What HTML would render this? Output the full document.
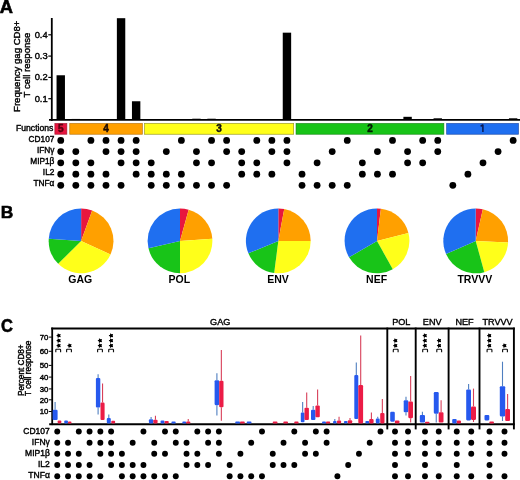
<!DOCTYPE html>
<html><head><meta charset="utf-8"><style>
html,body{margin:0;padding:0;background:#fff;width:520px;height:480px;overflow:hidden}
svg{display:block;filter:blur(0.3px)}
text{font-family:"Liberation Sans",sans-serif}
</style></head><body>
<svg width="520" height="480" viewBox="0 0 520 480">
<rect width="520" height="480" fill="#fff"/>
<text x="-0.3" y="13.2" font-size="18.3" font-weight="bold" stroke="#000" stroke-width="0.6" font-family="Liberation Sans, sans-serif">A</text>
<line x1="51.8" y1="18" x2="51.8" y2="121" stroke="#000" stroke-width="1.8"/>
<line x1="48.3" y1="98.70" x2="52" y2="98.70" stroke="#000" stroke-width="1.2"/>
<text x="47.7" y="101.60" font-size="9.4" text-anchor="end" font-family="Liberation Sans, sans-serif" stroke="#000" stroke-width="0.4">0.1</text>
<line x1="48.3" y1="77.40" x2="52" y2="77.40" stroke="#000" stroke-width="1.2"/>
<text x="47.7" y="80.30" font-size="9.4" text-anchor="end" font-family="Liberation Sans, sans-serif" stroke="#000" stroke-width="0.4">0.2</text>
<line x1="48.3" y1="56.10" x2="52" y2="56.10" stroke="#000" stroke-width="1.2"/>
<text x="47.7" y="59.00" font-size="9.4" text-anchor="end" font-family="Liberation Sans, sans-serif" stroke="#000" stroke-width="0.4">0.3</text>
<line x1="48.3" y1="34.80" x2="52" y2="34.80" stroke="#000" stroke-width="1.2"/>
<text x="47.7" y="37.70" font-size="9.4" text-anchor="end" font-family="Liberation Sans, sans-serif" stroke="#000" stroke-width="0.4">0.4</text>
<text transform="translate(19.9,66.25) rotate(-90)" font-size="9.6" text-anchor="middle" font-family="Liberation Sans, sans-serif" stroke="#000" stroke-width="0.4">Frequency gag CD8+</text>
<text transform="translate(30.4,65) rotate(-90)" font-size="9.6" text-anchor="middle" font-family="Liberation Sans, sans-serif" stroke="#000" stroke-width="0.4">T cell response</text>
<line x1="49" y1="119.9" x2="520" y2="119.9" stroke="#000" stroke-width="1.8"/>
<rect x="56.55" y="75.27" width="8.4" height="44.73" fill="#000"/>
<rect x="71.63" y="118.94" width="8.4" height="1.06" fill="#000"/>
<rect x="116.87" y="18.19" width="8.4" height="101.81" fill="#000"/>
<rect x="131.95" y="101.26" width="8.4" height="18.74" fill="#000"/>
<rect x="282.75" y="32.67" width="8.4" height="87.33" fill="#000"/>
<rect x="192.27" y="118.72" width="8.4" height="1.28" fill="#000"/>
<rect x="207.35" y="118.72" width="8.4" height="1.28" fill="#000"/>
<rect x="403.39" y="116.81" width="8.4" height="3.19" fill="#000"/>
<rect x="433.55" y="118.30" width="8.4" height="1.70" fill="#000"/>
<rect x="508.95" y="118.30" width="8.4" height="1.70" fill="#000"/>
<text x="53.4" y="130.6" font-size="8.65" text-anchor="end" font-family="Liberation Sans, sans-serif" stroke="#000" stroke-width="0.4">Functions</text>
<rect x="54.85" y="123.45" width="12.00" height="10.8" fill="#e6163f" stroke="#a0102a" stroke-width="0.7" stroke-opacity="0.85"/>
<text x="60.85" y="131.8" font-size="10" font-weight="bold" text-anchor="middle" fill="#5a0010" stroke="#5a0010" stroke-width="0.45" font-family="Liberation Sans, sans-serif">5</text>
<rect x="69.75" y="123.45" width="72.60" height="10.8" fill="#ffa000" stroke="#b06a00" stroke-width="0.7" stroke-opacity="0.85"/>
<text x="106.05" y="131.8" font-size="10" font-weight="bold" text-anchor="middle" fill="#1a0800" stroke="#1a0800" stroke-width="0.45" font-family="Liberation Sans, sans-serif">4</text>
<rect x="144.54999999999998" y="123.45" width="149.10" height="10.8" fill="#ffff1a" stroke="#8a8a10" stroke-width="0.7" stroke-opacity="0.85"/>
<text x="219.10" y="131.8" font-size="10" font-weight="bold" text-anchor="middle" fill="#111" stroke="#111" stroke-width="0.45" font-family="Liberation Sans, sans-serif">3</text>
<rect x="296.05" y="123.45" width="147.80" height="10.8" fill="#18c418" stroke="#108010" stroke-width="0.7" stroke-opacity="0.85"/>
<text x="369.95" y="131.8" font-size="10" font-weight="bold" text-anchor="middle" fill="#021a02" stroke="#021a02" stroke-width="0.45" font-family="Liberation Sans, sans-serif">2</text>
<rect x="446.65000000000003" y="123.45" width="71.80" height="10.8" fill="#1f6ff0" stroke="#1040a0" stroke-width="0.7" stroke-opacity="0.85"/>
<path d="M482.9,132 V124.4 M482.9,124.6 L480.6,126.4" stroke="#0a1850" stroke-width="1.5" fill="none"/>
<text x="54.4" y="142.10" font-size="8.3" text-anchor="end" font-family="Liberation Sans, sans-serif" stroke="#000" stroke-width="0.4">CD107</text>
<text x="54.4" y="153.10" font-size="8.3" text-anchor="end" font-family="Liberation Sans, sans-serif" stroke="#000" stroke-width="0.4">IFNγ</text>
<text x="54.4" y="164.10" font-size="8.3" text-anchor="end" font-family="Liberation Sans, sans-serif" stroke="#000" stroke-width="0.4">MIP1β</text>
<text x="54.4" y="175.10" font-size="8.3" text-anchor="end" font-family="Liberation Sans, sans-serif" stroke="#000" stroke-width="0.4">IL2</text>
<text x="54.4" y="186.10" font-size="8.3" text-anchor="end" font-family="Liberation Sans, sans-serif" stroke="#000" stroke-width="0.4">TNFα</text>
<circle cx="60.75" cy="140.45" r="3.4"/>
<circle cx="60.75" cy="151.55" r="3.4"/>
<circle cx="60.75" cy="162.80" r="3.4"/>
<circle cx="60.75" cy="174.20" r="3.4"/>
<circle cx="60.75" cy="185.35" r="3.4"/>
<circle cx="75.83" cy="151.55" r="3.4"/>
<circle cx="75.83" cy="162.80" r="3.4"/>
<circle cx="75.83" cy="174.20" r="3.4"/>
<circle cx="75.83" cy="185.35" r="3.4"/>
<circle cx="90.91" cy="140.45" r="3.4"/>
<circle cx="90.91" cy="162.80" r="3.4"/>
<circle cx="90.91" cy="174.20" r="3.4"/>
<circle cx="90.91" cy="185.35" r="3.4"/>
<circle cx="105.99" cy="140.45" r="3.4"/>
<circle cx="105.99" cy="151.55" r="3.4"/>
<circle cx="105.99" cy="174.20" r="3.4"/>
<circle cx="105.99" cy="185.35" r="3.4"/>
<circle cx="121.07" cy="140.45" r="3.4"/>
<circle cx="121.07" cy="151.55" r="3.4"/>
<circle cx="121.07" cy="162.80" r="3.4"/>
<circle cx="121.07" cy="185.35" r="3.4"/>
<circle cx="136.15" cy="140.45" r="3.4"/>
<circle cx="136.15" cy="151.55" r="3.4"/>
<circle cx="136.15" cy="162.80" r="3.4"/>
<circle cx="136.15" cy="174.20" r="3.4"/>
<circle cx="151.23" cy="162.80" r="3.4"/>
<circle cx="151.23" cy="174.20" r="3.4"/>
<circle cx="151.23" cy="185.35" r="3.4"/>
<circle cx="166.31" cy="151.55" r="3.4"/>
<circle cx="166.31" cy="174.20" r="3.4"/>
<circle cx="166.31" cy="185.35" r="3.4"/>
<circle cx="181.39" cy="140.45" r="3.4"/>
<circle cx="181.39" cy="174.20" r="3.4"/>
<circle cx="181.39" cy="185.35" r="3.4"/>
<circle cx="196.47" cy="151.55" r="3.4"/>
<circle cx="196.47" cy="162.80" r="3.4"/>
<circle cx="196.47" cy="185.35" r="3.4"/>
<circle cx="211.55" cy="140.45" r="3.4"/>
<circle cx="211.55" cy="162.80" r="3.4"/>
<circle cx="211.55" cy="185.35" r="3.4"/>
<circle cx="226.63" cy="140.45" r="3.4"/>
<circle cx="226.63" cy="151.55" r="3.4"/>
<circle cx="226.63" cy="185.35" r="3.4"/>
<circle cx="241.71" cy="151.55" r="3.4"/>
<circle cx="241.71" cy="162.80" r="3.4"/>
<circle cx="241.71" cy="174.20" r="3.4"/>
<circle cx="256.79" cy="140.45" r="3.4"/>
<circle cx="256.79" cy="162.80" r="3.4"/>
<circle cx="256.79" cy="174.20" r="3.4"/>
<circle cx="271.87" cy="140.45" r="3.4"/>
<circle cx="271.87" cy="151.55" r="3.4"/>
<circle cx="271.87" cy="174.20" r="3.4"/>
<circle cx="286.95" cy="140.45" r="3.4"/>
<circle cx="286.95" cy="151.55" r="3.4"/>
<circle cx="286.95" cy="162.80" r="3.4"/>
<circle cx="302.03" cy="174.20" r="3.4"/>
<circle cx="302.03" cy="185.35" r="3.4"/>
<circle cx="317.11" cy="162.80" r="3.4"/>
<circle cx="317.11" cy="185.35" r="3.4"/>
<circle cx="332.19" cy="151.55" r="3.4"/>
<circle cx="332.19" cy="185.35" r="3.4"/>
<circle cx="347.27" cy="140.45" r="3.4"/>
<circle cx="347.27" cy="185.35" r="3.4"/>
<circle cx="362.35" cy="162.80" r="3.4"/>
<circle cx="362.35" cy="174.20" r="3.4"/>
<circle cx="377.43" cy="151.55" r="3.4"/>
<circle cx="377.43" cy="174.20" r="3.4"/>
<circle cx="392.51" cy="140.45" r="3.4"/>
<circle cx="392.51" cy="174.20" r="3.4"/>
<circle cx="407.59" cy="151.55" r="3.4"/>
<circle cx="407.59" cy="162.80" r="3.4"/>
<circle cx="422.67" cy="140.45" r="3.4"/>
<circle cx="422.67" cy="162.80" r="3.4"/>
<circle cx="437.75" cy="140.45" r="3.4"/>
<circle cx="437.75" cy="151.55" r="3.4"/>
<circle cx="452.83" cy="185.35" r="3.4"/>
<circle cx="467.91" cy="174.20" r="3.4"/>
<circle cx="482.99" cy="162.80" r="3.4"/>
<circle cx="498.07" cy="151.55" r="3.4"/>
<circle cx="513.15" cy="140.45" r="3.4"/>
<text x="0.7" y="217.6" font-size="17.4" font-weight="bold" stroke="#000" stroke-width="0.55" font-family="Liberation Sans, sans-serif">B</text>
<path d="M81.10,240.90 L81.10,208.50 A32.4,32.4 0 0 1 92.18,210.45 Z" fill="#e8173e"/>
<path d="M81.10,240.90 L92.18,210.45 A32.4,32.4 0 0 1 110.56,254.39 Z" fill="#ffa000"/>
<path d="M81.10,240.90 L110.56,254.39 A32.4,32.4 0 0 1 58.19,263.81 Z" fill="#ffff1a"/>
<path d="M81.10,240.90 L58.19,263.81 A32.4,32.4 0 0 1 48.77,238.75 Z" fill="#18c418"/>
<path d="M81.10,240.90 L48.77,238.75 A32.4,32.4 0 0 1 81.10,208.50 Z" fill="#1f6ff0"/>
<text x="80.30" y="283.4" font-size="10.5" font-weight="bold" text-anchor="middle" font-family="Liberation Sans, sans-serif">GAG</text>
<path d="M180.00,240.90 L180.00,208.50 A32.4,32.4 0 0 1 188.66,209.68 Z" fill="#e8173e"/>
<path d="M180.00,240.90 L188.66,209.68 A32.4,32.4 0 0 1 212.32,238.64 Z" fill="#ffa000"/>
<path d="M180.00,240.90 L212.32,238.64 A32.4,32.4 0 0 1 180.00,273.30 Z" fill="#ffff1a"/>
<path d="M180.00,240.90 L180.00,273.30 A32.4,32.4 0 0 1 148.47,248.35 Z" fill="#18c418"/>
<path d="M180.00,240.90 L148.47,248.35 A32.4,32.4 0 0 1 180.00,208.50 Z" fill="#1f6ff0"/>
<text x="179.30" y="283.4" font-size="10.5" font-weight="bold" text-anchor="middle" font-family="Liberation Sans, sans-serif">POL</text>
<path d="M278.30,240.90 L278.30,208.50 A32.4,32.4 0 0 1 284.26,209.05 Z" fill="#e8173e"/>
<path d="M278.30,240.90 L284.26,209.05 A32.4,32.4 0 0 1 310.70,240.90 Z" fill="#ffa000"/>
<path d="M278.30,240.90 L310.70,240.90 A32.4,32.4 0 0 1 274.18,273.04 Z" fill="#ffff1a"/>
<path d="M278.30,240.90 L274.18,273.04 A32.4,32.4 0 0 1 248.39,253.35 Z" fill="#18c418"/>
<path d="M278.30,240.90 L248.39,253.35 A32.4,32.4 0 0 1 278.30,208.50 Z" fill="#1f6ff0"/>
<text x="278.00" y="283.4" font-size="10.5" font-weight="bold" text-anchor="middle" font-family="Liberation Sans, sans-serif">ENV</text>
<path d="M377.00,240.90 L377.00,208.50 A32.4,32.4 0 0 1 380.89,208.73 Z" fill="#e8173e"/>
<path d="M377.00,240.90 L380.89,208.73 A32.4,32.4 0 0 1 408.41,232.95 Z" fill="#ffa000"/>
<path d="M377.00,240.90 L408.41,232.95 A32.4,32.4 0 0 1 392.76,269.21 Z" fill="#ffff1a"/>
<path d="M377.00,240.90 L392.76,269.21 A32.4,32.4 0 0 1 349.05,257.30 Z" fill="#18c418"/>
<path d="M377.00,240.90 L349.05,257.30 A32.4,32.4 0 0 1 377.00,208.50 Z" fill="#1f6ff0"/>
<text x="376.60" y="283.4" font-size="10.5" font-weight="bold" text-anchor="middle" font-family="Liberation Sans, sans-serif">NEF</text>
<path d="M475.70,240.90 L475.70,208.50 A32.4,32.4 0 0 1 482.82,209.29 Z" fill="#e8173e"/>
<path d="M475.70,240.90 L482.82,209.29 A32.4,32.4 0 0 1 508.06,242.60 Z" fill="#ffa000"/>
<path d="M475.70,240.90 L508.06,242.60 A32.4,32.4 0 0 1 484.30,272.14 Z" fill="#ffff1a"/>
<path d="M475.70,240.90 L484.30,272.14 A32.4,32.4 0 0 1 446.04,253.95 Z" fill="#18c418"/>
<path d="M475.70,240.90 L446.04,253.95 A32.4,32.4 0 0 1 475.70,208.50 Z" fill="#1f6ff0"/>
<text x="474.80" y="283.4" font-size="10.5" font-weight="bold" text-anchor="middle" font-family="Liberation Sans, sans-serif">TRVVV</text>
<text transform="translate(0.9,331.6) scale(0.93,1)" font-size="17.8" font-weight="bold" stroke="#000" stroke-width="0.55" font-family="Liberation Sans, sans-serif">C</text>
<line x1="51.2" y1="328.5" x2="514.8" y2="328.5" stroke="#000" stroke-width="1.9"/>
<line x1="52.2" y1="327.6" x2="52.2" y2="425.09999999999997" stroke="#000" stroke-width="1.8"/>
<line x1="49.2" y1="424.2" x2="514.8" y2="424.2" stroke="#000" stroke-width="1.9"/>
<line x1="387.3" y1="327.6" x2="387.3" y2="429.4" stroke="#000" stroke-width="1.9"/>
<line x1="415.7" y1="327.6" x2="415.7" y2="429.4" stroke="#000" stroke-width="1.9"/>
<line x1="448.6" y1="327.6" x2="448.6" y2="429.4" stroke="#000" stroke-width="1.9"/>
<line x1="479.5" y1="327.6" x2="479.5" y2="429.4" stroke="#000" stroke-width="1.9"/>
<line x1="513.9" y1="327.6" x2="513.9" y2="429.4" stroke="#000" stroke-width="1.9"/>
<line x1="48.8" y1="411.50" x2="51.8" y2="411.50" stroke="#000" stroke-width="1"/>
<text x="48.4" y="414.20" font-size="7.8" text-anchor="end" font-family="Liberation Sans, sans-serif" stroke="#000" stroke-width="0.4">10</text>
<line x1="48.8" y1="399.80" x2="51.8" y2="399.80" stroke="#000" stroke-width="1"/>
<text x="48.4" y="402.50" font-size="7.8" text-anchor="end" font-family="Liberation Sans, sans-serif" stroke="#000" stroke-width="0.4">20</text>
<line x1="48.8" y1="388.90" x2="51.8" y2="388.90" stroke="#000" stroke-width="1"/>
<text x="48.4" y="391.60" font-size="7.8" text-anchor="end" font-family="Liberation Sans, sans-serif" stroke="#000" stroke-width="0.4">30</text>
<line x1="48.8" y1="377.10" x2="51.8" y2="377.10" stroke="#000" stroke-width="1"/>
<text x="48.4" y="379.80" font-size="7.8" text-anchor="end" font-family="Liberation Sans, sans-serif" stroke="#000" stroke-width="0.4">40</text>
<line x1="48.8" y1="365.40" x2="51.8" y2="365.40" stroke="#000" stroke-width="1"/>
<text x="48.4" y="368.10" font-size="7.8" text-anchor="end" font-family="Liberation Sans, sans-serif" stroke="#000" stroke-width="0.4">50</text>
<line x1="48.8" y1="351.30" x2="51.8" y2="351.30" stroke="#000" stroke-width="1"/>
<text x="48.4" y="354.00" font-size="7.8" text-anchor="end" font-family="Liberation Sans, sans-serif" stroke="#000" stroke-width="0.4">60</text>
<line x1="48.8" y1="337.10" x2="51.8" y2="337.10" stroke="#000" stroke-width="1"/>
<text x="48.4" y="339.80" font-size="7.8" text-anchor="end" font-family="Liberation Sans, sans-serif" stroke="#000" stroke-width="0.4">70</text>
<text transform="translate(23.6,396) rotate(-90)" font-size="8.2" font-family="Liberation Sans, sans-serif" stroke="#000" stroke-width="0.4">Percent CD8+</text>
<text transform="translate(31.3,396) rotate(-90)" font-size="8.2" font-family="Liberation Sans, sans-serif" stroke="#000" stroke-width="0.4">T cell response</text>
<text x="220.2" y="325.0" font-size="9.1" text-anchor="middle" font-family="Liberation Sans, sans-serif" stroke="#000" stroke-width="0.4">GAG</text>
<text x="401.3" y="325.0" font-size="9.1" text-anchor="middle" font-family="Liberation Sans, sans-serif" stroke="#000" stroke-width="0.4">POL</text>
<text x="432.2" y="325.0" font-size="9.1" text-anchor="middle" font-family="Liberation Sans, sans-serif" stroke="#000" stroke-width="0.4">ENV</text>
<text x="464.5" y="325.0" font-size="9.1" text-anchor="middle" font-family="Liberation Sans, sans-serif" stroke="#000" stroke-width="0.4">NEF</text>
<text x="497.5" y="325.0" font-size="9.1" text-anchor="middle" font-family="Liberation Sans, sans-serif" stroke="#000" stroke-width="0.4">TRVVV</text>
<text x="49.8" y="434.10" font-size="8.5" text-anchor="end" font-family="Liberation Sans, sans-serif" stroke="#000" stroke-width="0.4">CD107</text>
<text x="49.8" y="445.15" font-size="8.5" text-anchor="end" font-family="Liberation Sans, sans-serif" stroke="#000" stroke-width="0.4">IFNγ</text>
<text x="49.8" y="456.20" font-size="8.5" text-anchor="end" font-family="Liberation Sans, sans-serif" stroke="#000" stroke-width="0.4">MIP1β</text>
<text x="49.8" y="467.25" font-size="8.5" text-anchor="end" font-family="Liberation Sans, sans-serif" stroke="#000" stroke-width="0.4">IL2</text>
<text x="49.8" y="478.30" font-size="8.5" text-anchor="end" font-family="Liberation Sans, sans-serif" stroke="#000" stroke-width="0.4">TNFα</text>
<circle cx="57.25" cy="431.50" r="2.95"/>
<circle cx="57.25" cy="442.80" r="2.95"/>
<circle cx="57.25" cy="453.80" r="2.95"/>
<circle cx="57.25" cy="465.00" r="2.95"/>
<circle cx="57.25" cy="476.25" r="2.95"/>
<circle cx="68.03" cy="442.80" r="2.95"/>
<circle cx="68.03" cy="453.80" r="2.95"/>
<circle cx="68.03" cy="465.00" r="2.95"/>
<circle cx="68.03" cy="476.25" r="2.95"/>
<circle cx="78.80" cy="431.50" r="2.95"/>
<circle cx="78.80" cy="453.80" r="2.95"/>
<circle cx="78.80" cy="465.00" r="2.95"/>
<circle cx="78.80" cy="476.25" r="2.95"/>
<circle cx="89.58" cy="431.50" r="2.95"/>
<circle cx="89.58" cy="442.80" r="2.95"/>
<circle cx="89.58" cy="465.00" r="2.95"/>
<circle cx="89.58" cy="476.25" r="2.95"/>
<circle cx="100.35" cy="431.50" r="2.95"/>
<circle cx="100.35" cy="442.80" r="2.95"/>
<circle cx="100.35" cy="453.80" r="2.95"/>
<circle cx="100.35" cy="476.25" r="2.95"/>
<circle cx="111.12" cy="431.50" r="2.95"/>
<circle cx="111.12" cy="442.80" r="2.95"/>
<circle cx="111.12" cy="453.80" r="2.95"/>
<circle cx="111.12" cy="465.00" r="2.95"/>
<circle cx="121.90" cy="453.80" r="2.95"/>
<circle cx="121.90" cy="465.00" r="2.95"/>
<circle cx="121.90" cy="476.25" r="2.95"/>
<circle cx="132.68" cy="442.80" r="2.95"/>
<circle cx="132.68" cy="465.00" r="2.95"/>
<circle cx="132.68" cy="476.25" r="2.95"/>
<circle cx="143.45" cy="431.50" r="2.95"/>
<circle cx="143.45" cy="465.00" r="2.95"/>
<circle cx="143.45" cy="476.25" r="2.95"/>
<circle cx="154.23" cy="442.80" r="2.95"/>
<circle cx="154.23" cy="453.80" r="2.95"/>
<circle cx="154.23" cy="476.25" r="2.95"/>
<circle cx="165.00" cy="431.50" r="2.95"/>
<circle cx="165.00" cy="453.80" r="2.95"/>
<circle cx="165.00" cy="476.25" r="2.95"/>
<circle cx="175.78" cy="431.50" r="2.95"/>
<circle cx="175.78" cy="442.80" r="2.95"/>
<circle cx="175.78" cy="476.25" r="2.95"/>
<circle cx="186.55" cy="442.80" r="2.95"/>
<circle cx="186.55" cy="453.80" r="2.95"/>
<circle cx="186.55" cy="465.00" r="2.95"/>
<circle cx="197.33" cy="431.50" r="2.95"/>
<circle cx="197.33" cy="453.80" r="2.95"/>
<circle cx="197.33" cy="465.00" r="2.95"/>
<circle cx="208.10" cy="431.50" r="2.95"/>
<circle cx="208.10" cy="442.80" r="2.95"/>
<circle cx="208.10" cy="465.00" r="2.95"/>
<circle cx="218.88" cy="431.50" r="2.95"/>
<circle cx="218.88" cy="442.80" r="2.95"/>
<circle cx="218.88" cy="453.80" r="2.95"/>
<circle cx="229.65" cy="465.00" r="2.95"/>
<circle cx="229.65" cy="476.25" r="2.95"/>
<circle cx="240.43" cy="453.80" r="2.95"/>
<circle cx="240.43" cy="476.25" r="2.95"/>
<circle cx="251.20" cy="442.80" r="2.95"/>
<circle cx="251.20" cy="476.25" r="2.95"/>
<circle cx="261.98" cy="431.50" r="2.95"/>
<circle cx="261.98" cy="476.25" r="2.95"/>
<circle cx="272.75" cy="453.80" r="2.95"/>
<circle cx="272.75" cy="465.00" r="2.95"/>
<circle cx="283.52" cy="442.80" r="2.95"/>
<circle cx="283.52" cy="465.00" r="2.95"/>
<circle cx="294.30" cy="431.50" r="2.95"/>
<circle cx="294.30" cy="465.00" r="2.95"/>
<circle cx="305.08" cy="442.80" r="2.95"/>
<circle cx="305.08" cy="453.80" r="2.95"/>
<circle cx="315.85" cy="431.50" r="2.95"/>
<circle cx="315.85" cy="453.80" r="2.95"/>
<circle cx="326.62" cy="431.50" r="2.95"/>
<circle cx="326.62" cy="442.80" r="2.95"/>
<circle cx="337.40" cy="476.25" r="2.95"/>
<circle cx="348.18" cy="465.00" r="2.95"/>
<circle cx="358.95" cy="453.80" r="2.95"/>
<circle cx="369.73" cy="442.80" r="2.95"/>
<circle cx="380.50" cy="431.50" r="2.95"/>
<circle cx="395.00" cy="431.50" r="2.95"/>
<circle cx="395.00" cy="442.80" r="2.95"/>
<circle cx="395.00" cy="453.80" r="2.95"/>
<circle cx="395.00" cy="465.00" r="2.95"/>
<circle cx="395.00" cy="476.25" r="2.95"/>
<circle cx="408.00" cy="431.50" r="2.95"/>
<circle cx="408.00" cy="442.80" r="2.95"/>
<circle cx="408.00" cy="453.80" r="2.95"/>
<circle cx="408.00" cy="476.25" r="2.95"/>
<circle cx="425.00" cy="431.50" r="2.95"/>
<circle cx="425.00" cy="442.80" r="2.95"/>
<circle cx="425.00" cy="453.80" r="2.95"/>
<circle cx="425.00" cy="465.00" r="2.95"/>
<circle cx="425.00" cy="476.25" r="2.95"/>
<circle cx="438.75" cy="431.50" r="2.95"/>
<circle cx="438.75" cy="442.80" r="2.95"/>
<circle cx="438.75" cy="453.80" r="2.95"/>
<circle cx="438.75" cy="476.25" r="2.95"/>
<circle cx="456.75" cy="431.50" r="2.95"/>
<circle cx="456.75" cy="442.80" r="2.95"/>
<circle cx="456.75" cy="453.80" r="2.95"/>
<circle cx="456.75" cy="465.00" r="2.95"/>
<circle cx="456.75" cy="476.25" r="2.95"/>
<circle cx="471.25" cy="431.50" r="2.95"/>
<circle cx="471.25" cy="442.80" r="2.95"/>
<circle cx="471.25" cy="453.80" r="2.95"/>
<circle cx="471.25" cy="476.25" r="2.95"/>
<circle cx="489.50" cy="431.50" r="2.95"/>
<circle cx="489.50" cy="442.80" r="2.95"/>
<circle cx="489.50" cy="453.80" r="2.95"/>
<circle cx="489.50" cy="465.00" r="2.95"/>
<circle cx="489.50" cy="476.25" r="2.95"/>
<circle cx="504.50" cy="431.50" r="2.95"/>
<circle cx="504.50" cy="442.80" r="2.95"/>
<circle cx="504.50" cy="453.80" r="2.95"/>
<circle cx="504.50" cy="476.25" r="2.95"/>
<line x1="55.10" y1="402" x2="55.10" y2="409.8" stroke="#4f7fc0" stroke-width="1.1"/>
<rect x="52.6" y="409.8" width="5.00" height="10.20" rx="1.10" fill="#2659ee"/>
<rect x="57.6" y="420.5" width="3.80" height="2.90" rx="1.10" fill="#ec1c46"/>
<rect x="64.2" y="420.5" width="3.80" height="2.90" rx="1.10" fill="#2659ee"/>
<rect x="68" y="421.5" width="3.50" height="1.90" rx="0.95" fill="#ec1c46"/>
<line x1="98.10" y1="374.2" x2="98.10" y2="378" stroke="#4f7fc0" stroke-width="1.1"/>
<line x1="98.10" y1="407.6" x2="98.10" y2="414.6" stroke="#4f7fc0" stroke-width="1.1"/>
<rect x="95.9" y="378" width="4.40" height="29.60" rx="1.10" fill="#2659ee"/>
<line x1="102.55" y1="383.6" x2="102.55" y2="402.6" stroke="#d8405a" stroke-width="1.1"/>
<rect x="100.5" y="402.6" width="4.10" height="17.40" rx="1.10" fill="#ec1c46"/>
<line x1="108.80" y1="414.6" x2="108.80" y2="417.9" stroke="#4f7fc0" stroke-width="1.1"/>
<rect x="106.8" y="417.9" width="4.00" height="5.50" rx="1.10" fill="#2659ee"/>
<rect x="111.2" y="420.8" width="4.00" height="2.60" rx="1.10" fill="#ec1c46"/>
<line x1="151.10" y1="417.1" x2="151.10" y2="419.2" stroke="#4f7fc0" stroke-width="1.1"/>
<rect x="148.9" y="419.2" width="4.40" height="4.20" rx="1.10" fill="#2659ee"/>
<line x1="155.45" y1="415.8" x2="155.45" y2="419.7" stroke="#d8405a" stroke-width="1.1"/>
<rect x="153.3" y="419.7" width="4.30" height="3.70" rx="1.10" fill="#ec1c46"/>
<rect x="160.5" y="420.6" width="4.00" height="2.80" rx="1.10" fill="#2659ee"/>
<rect x="164.5" y="421" width="4.30" height="2.40" rx="1.10" fill="#ec1c46"/>
<rect x="171.4" y="421.6" width="4.30" height="1.80" rx="0.90" fill="#2659ee"/>
<rect x="182.3" y="421.6" width="3.80" height="1.80" rx="0.90" fill="#2659ee"/>
<line x1="188.25" y1="418.9" x2="188.25" y2="421.4" stroke="#d8405a" stroke-width="1.1"/>
<rect x="186.1" y="421.4" width="4.30" height="2.00" rx="1.00" fill="#ec1c46"/>
<line x1="216.90" y1="373.3" x2="216.90" y2="380.2" stroke="#4f7fc0" stroke-width="1.1"/>
<line x1="216.90" y1="405.2" x2="216.90" y2="415.6" stroke="#4f7fc0" stroke-width="1.1"/>
<rect x="214.6" y="380.2" width="4.60" height="25.00" rx="1.10" fill="#2659ee"/>
<line x1="221.35" y1="350" x2="221.35" y2="380.8" stroke="#d8405a" stroke-width="1.1"/>
<line x1="221.35" y1="407.3" x2="221.35" y2="420.8" stroke="#d8405a" stroke-width="1.1"/>
<rect x="219.2" y="380.8" width="4.30" height="26.50" rx="1.10" fill="#ec1c46"/>
<rect x="235.2" y="421.6" width="4.80" height="1.80" rx="0.90" fill="#2659ee"/>
<rect x="240" y="421.6" width="4.80" height="1.80" rx="0.90" fill="#ec1c46"/>
<rect x="246.7" y="421.6" width="4.80" height="1.80" rx="0.90" fill="#2659ee"/>
<rect x="272.7" y="421.6" width="4.80" height="1.80" rx="0.90" fill="#ec1c46"/>
<rect x="283.3" y="421.6" width="4.70" height="1.80" rx="0.90" fill="#ec1c46"/>
<rect x="294.2" y="421.6" width="4.40" height="1.80" rx="0.90" fill="#ec1c46"/>
<line x1="302.65" y1="402" x2="302.65" y2="412.5" stroke="#4f7fc0" stroke-width="1.1"/>
<rect x="300.8" y="412.5" width="3.70" height="9.80" rx="1.10" fill="#2659ee"/>
<line x1="306.70" y1="392.4" x2="306.70" y2="407.7" stroke="#d8405a" stroke-width="1.1"/>
<rect x="304.5" y="407.7" width="4.40" height="12.40" rx="1.10" fill="#ec1c46"/>
<line x1="313.20" y1="405.9" x2="313.20" y2="409.8" stroke="#4f7fc0" stroke-width="1.1"/>
<rect x="311" y="409.8" width="4.40" height="10.30" rx="1.10" fill="#2659ee"/>
<line x1="317.60" y1="389.5" x2="317.60" y2="405.5" stroke="#d8405a" stroke-width="1.1"/>
<rect x="315.4" y="405.5" width="4.40" height="11.80" rx="1.10" fill="#ec1c46"/>
<rect x="322" y="421.4" width="4.00" height="2.00" rx="1.00" fill="#2659ee"/>
<rect x="326" y="421.6" width="4.20" height="1.80" rx="0.90" fill="#ec1c46"/>
<line x1="334.80" y1="419" x2="334.80" y2="421" stroke="#4f7fc0" stroke-width="1.1"/>
<rect x="333" y="421" width="3.60" height="2.40" rx="1.10" fill="#2659ee"/>
<line x1="339.05" y1="416.8" x2="339.05" y2="420.6" stroke="#d8405a" stroke-width="1.1"/>
<rect x="336.9" y="420.6" width="4.30" height="2.80" rx="1.10" fill="#ec1c46"/>
<rect x="343.9" y="421" width="3.70" height="2.40" rx="1.10" fill="#2659ee"/>
<line x1="350.00" y1="418" x2="350.00" y2="420.2" stroke="#d8405a" stroke-width="1.1"/>
<rect x="347.8" y="420.2" width="4.40" height="3.20" rx="1.10" fill="#ec1c46"/>
<line x1="356.30" y1="362.6" x2="356.30" y2="374.9" stroke="#4f7fc0" stroke-width="1.1"/>
<rect x="354.3" y="374.9" width="4.00" height="44.10" rx="1.10" fill="#2659ee"/>
<line x1="360.70" y1="335.5" x2="360.70" y2="385.1" stroke="#d8405a" stroke-width="1.1"/>
<rect x="358.3" y="385.1" width="4.80" height="38.30" rx="1.10" fill="#ec1c46"/>
<rect x="365.3" y="421" width="3.90" height="2.40" rx="1.10" fill="#2659ee"/>
<line x1="371.40" y1="412.5" x2="371.40" y2="419" stroke="#d8405a" stroke-width="1.1"/>
<rect x="369.2" y="419" width="4.40" height="4.40" rx="1.10" fill="#ec1c46"/>
<line x1="377.75" y1="416.8" x2="377.75" y2="418.6" stroke="#4f7fc0" stroke-width="1.1"/>
<rect x="375.8" y="418.6" width="3.90" height="4.80" rx="1.10" fill="#2659ee"/>
<line x1="382.35" y1="398.9" x2="382.35" y2="412.9" stroke="#d8405a" stroke-width="1.1"/>
<rect x="380.2" y="412.9" width="4.30" height="10.50" rx="1.10" fill="#ec1c46"/>
<rect x="390.2" y="411.8" width="4.60" height="9.90" rx="1.10" fill="#2659ee"/>
<rect x="394.8" y="420.4" width="4.70" height="3.00" rx="1.10" fill="#ec1c46"/>
<line x1="406.00" y1="396.7" x2="406.00" y2="400.2" stroke="#4f7fc0" stroke-width="1.1"/>
<line x1="406.00" y1="412.3" x2="406.00" y2="415.5" stroke="#4f7fc0" stroke-width="1.1"/>
<rect x="403.7" y="400.2" width="4.60" height="12.10" rx="1.10" fill="#2659ee"/>
<line x1="410.65" y1="376" x2="410.65" y2="401.5" stroke="#d8405a" stroke-width="1.1"/>
<line x1="410.65" y1="418.2" x2="410.65" y2="422.5" stroke="#d8405a" stroke-width="1.1"/>
<rect x="408.3" y="401.5" width="4.70" height="16.70" rx="1.10" fill="#ec1c46"/>
<line x1="422.40" y1="411.8" x2="422.40" y2="415" stroke="#4f7fc0" stroke-width="1.1"/>
<rect x="419.8" y="415" width="5.20" height="7.50" rx="1.10" fill="#2659ee"/>
<rect x="425" y="421.8" width="4.50" height="1.60" rx="0.80" fill="#ec1c46"/>
<line x1="436.25" y1="413.7" x2="436.25" y2="422.5" stroke="#4f7fc0" stroke-width="1.1"/>
<rect x="433.8" y="392.1" width="4.90" height="21.60" rx="1.10" fill="#2659ee"/>
<line x1="441.10" y1="400.2" x2="441.10" y2="412.3" stroke="#d8405a" stroke-width="1.1"/>
<rect x="438.7" y="412.3" width="4.80" height="10.20" rx="1.10" fill="#ec1c46"/>
<rect x="452.2" y="419" width="4.50" height="4.40" rx="1.10" fill="#2659ee"/>
<rect x="456.7" y="420.6" width="4.30" height="2.80" rx="1.10" fill="#ec1c46"/>
<line x1="468.60" y1="384" x2="468.60" y2="389.4" stroke="#4f7fc0" stroke-width="1.1"/>
<rect x="466.2" y="389.4" width="4.80" height="31.00" rx="1.10" fill="#2659ee"/>
<line x1="473.50" y1="388.6" x2="473.50" y2="406.4" stroke="#d8405a" stroke-width="1.1"/>
<line x1="473.50" y1="419.9" x2="473.50" y2="422" stroke="#d8405a" stroke-width="1.1"/>
<rect x="471" y="406.4" width="5.00" height="13.50" rx="1.10" fill="#ec1c46"/>
<rect x="484.5" y="415" width="4.80" height="5.40" rx="1.10" fill="#2659ee"/>
<rect x="489.3" y="421.4" width="4.70" height="2.00" rx="1.00" fill="#ec1c46"/>
<line x1="502.50" y1="361.7" x2="502.50" y2="386.2" stroke="#4f7fc0" stroke-width="1.1"/>
<line x1="502.50" y1="416.4" x2="502.50" y2="421" stroke="#4f7fc0" stroke-width="1.1"/>
<rect x="499.8" y="386.2" width="5.40" height="30.20" rx="1.10" fill="#2659ee"/>
<line x1="507.60" y1="394" x2="507.60" y2="409" stroke="#d8405a" stroke-width="1.1"/>
<rect x="505.2" y="409" width="4.80" height="12.00" rx="1.10" fill="#ec1c46"/>
<path d="M55.80,352.2 V349.9 Q55.80,349.2 56.50,349.2 H59.90 Q60.60,349.2 60.60,349.9 V352.2" fill="none" stroke="#111" stroke-width="1.15"/>
<path d="M58.70,345.60L57.10,345.60M58.70,345.60L58.21,344.08M58.70,345.60L59.99,344.66M58.70,345.60L59.99,346.54M58.70,345.60L58.21,347.12" stroke="#000" stroke-width="1.3" stroke-linecap="round"/>
<circle cx="58.70" cy="345.60" r="1.35"/>
<path d="M58.70,340.60L57.10,340.60M58.70,340.60L58.21,339.08M58.70,340.60L59.99,339.66M58.70,340.60L59.99,341.54M58.70,340.60L58.21,342.12" stroke="#000" stroke-width="1.3" stroke-linecap="round"/>
<circle cx="58.70" cy="340.60" r="1.35"/>
<path d="M58.70,335.60L57.10,335.60M58.70,335.60L58.21,334.08M58.70,335.60L59.99,334.66M58.70,335.60L59.99,336.54M58.70,335.60L58.21,337.12" stroke="#000" stroke-width="1.3" stroke-linecap="round"/>
<circle cx="58.70" cy="335.60" r="1.35"/>
<path d="M66.60,352.2 V349.9 Q66.60,349.2 67.30,349.2 H70.70 Q71.40,349.2 71.40,349.9 V352.2" fill="none" stroke="#111" stroke-width="1.15"/>
<path d="M69.60,345.60L68.00,345.60M69.60,345.60L69.11,344.08M69.60,345.60L70.89,344.66M69.60,345.60L70.89,346.54M69.60,345.60L69.11,347.12" stroke="#000" stroke-width="1.3" stroke-linecap="round"/>
<circle cx="69.60" cy="345.60" r="1.35"/>
<path d="M97.60,352.2 V349.9 Q97.60,349.2 98.30,349.2 H101.70 Q102.40,349.2 102.40,349.9 V352.2" fill="none" stroke="#111" stroke-width="1.15"/>
<path d="M100.00,345.60L98.40,345.60M100.00,345.60L99.51,344.08M100.00,345.60L101.29,344.66M100.00,345.60L101.29,346.54M100.00,345.60L99.51,347.12" stroke="#000" stroke-width="1.3" stroke-linecap="round"/>
<circle cx="100.00" cy="345.60" r="1.35"/>
<path d="M100.00,340.60L98.40,340.60M100.00,340.60L99.51,339.08M100.00,340.60L101.29,339.66M100.00,340.60L101.29,341.54M100.00,340.60L99.51,342.12" stroke="#000" stroke-width="1.3" stroke-linecap="round"/>
<circle cx="100.00" cy="340.60" r="1.35"/>
<path d="M108.70,352.2 V349.9 Q108.70,349.2 109.40,349.2 H112.80 Q113.50,349.2 113.50,349.9 V352.2" fill="none" stroke="#111" stroke-width="1.15"/>
<path d="M111.10,345.60L109.50,345.60M111.10,345.60L110.61,344.08M111.10,345.60L112.39,344.66M111.10,345.60L112.39,346.54M111.10,345.60L110.61,347.12" stroke="#000" stroke-width="1.3" stroke-linecap="round"/>
<circle cx="111.10" cy="345.60" r="1.35"/>
<path d="M111.10,340.60L109.50,340.60M111.10,340.60L110.61,339.08M111.10,340.60L112.39,339.66M111.10,340.60L112.39,341.54M111.10,340.60L110.61,342.12" stroke="#000" stroke-width="1.3" stroke-linecap="round"/>
<circle cx="111.10" cy="340.60" r="1.35"/>
<path d="M111.10,335.60L109.50,335.60M111.10,335.60L110.61,334.08M111.10,335.60L112.39,334.66M111.10,335.60L112.39,336.54M111.10,335.60L110.61,337.12" stroke="#000" stroke-width="1.3" stroke-linecap="round"/>
<circle cx="111.10" cy="335.60" r="1.35"/>
<path d="M393.30,352.2 V349.9 Q393.30,349.2 394.00,349.2 H397.40 Q398.10,349.2 398.10,349.9 V352.2" fill="none" stroke="#111" stroke-width="1.15"/>
<path d="M395.40,345.60L393.80,345.60M395.40,345.60L394.91,344.08M395.40,345.60L396.69,344.66M395.40,345.60L396.69,346.54M395.40,345.60L394.91,347.12" stroke="#000" stroke-width="1.3" stroke-linecap="round"/>
<circle cx="395.40" cy="345.60" r="1.35"/>
<path d="M395.40,340.60L393.80,340.60M395.40,340.60L394.91,339.08M395.40,340.60L396.69,339.66M395.40,340.60L396.69,341.54M395.40,340.60L394.91,342.12" stroke="#000" stroke-width="1.3" stroke-linecap="round"/>
<circle cx="395.40" cy="340.60" r="1.35"/>
<path d="M422.70,352.2 V349.9 Q422.70,349.2 423.40,349.2 H426.80 Q427.50,349.2 427.50,349.9 V352.2" fill="none" stroke="#111" stroke-width="1.15"/>
<path d="M424.90,345.60L423.30,345.60M424.90,345.60L424.41,344.08M424.90,345.60L426.19,344.66M424.90,345.60L426.19,346.54M424.90,345.60L424.41,347.12" stroke="#000" stroke-width="1.3" stroke-linecap="round"/>
<circle cx="424.90" cy="345.60" r="1.35"/>
<path d="M424.90,340.60L423.30,340.60M424.90,340.60L424.41,339.08M424.90,340.60L426.19,339.66M424.90,340.60L426.19,341.54M424.90,340.60L424.41,342.12" stroke="#000" stroke-width="1.3" stroke-linecap="round"/>
<circle cx="424.90" cy="340.60" r="1.35"/>
<path d="M424.90,335.60L423.30,335.60M424.90,335.60L424.41,334.08M424.90,335.60L426.19,334.66M424.90,335.60L426.19,336.54M424.90,335.60L424.41,337.12" stroke="#000" stroke-width="1.3" stroke-linecap="round"/>
<circle cx="424.90" cy="335.60" r="1.35"/>
<path d="M436.80,352.2 V349.9 Q436.80,349.2 437.50,349.2 H440.90 Q441.60,349.2 441.60,349.9 V352.2" fill="none" stroke="#111" stroke-width="1.15"/>
<path d="M439.10,345.60L437.50,345.60M439.10,345.60L438.61,344.08M439.10,345.60L440.39,344.66M439.10,345.60L440.39,346.54M439.10,345.60L438.61,347.12" stroke="#000" stroke-width="1.3" stroke-linecap="round"/>
<circle cx="439.10" cy="345.60" r="1.35"/>
<path d="M439.10,340.60L437.50,340.60M439.10,340.60L438.61,339.08M439.10,340.60L440.39,339.66M439.10,340.60L440.39,341.54M439.10,340.60L438.61,342.12" stroke="#000" stroke-width="1.3" stroke-linecap="round"/>
<circle cx="439.10" cy="340.60" r="1.35"/>
<path d="M487.10,352.2 V349.9 Q487.10,349.2 487.80,349.2 H491.20 Q491.90,349.2 491.90,349.9 V352.2" fill="none" stroke="#111" stroke-width="1.15"/>
<path d="M489.30,345.60L487.70,345.60M489.30,345.60L488.81,344.08M489.30,345.60L490.59,344.66M489.30,345.60L490.59,346.54M489.30,345.60L488.81,347.12" stroke="#000" stroke-width="1.3" stroke-linecap="round"/>
<circle cx="489.30" cy="345.60" r="1.35"/>
<path d="M489.30,340.60L487.70,340.60M489.30,340.60L488.81,339.08M489.30,340.60L490.59,339.66M489.30,340.60L490.59,341.54M489.30,340.60L488.81,342.12" stroke="#000" stroke-width="1.3" stroke-linecap="round"/>
<circle cx="489.30" cy="340.60" r="1.35"/>
<path d="M489.30,335.60L487.70,335.60M489.30,335.60L488.81,334.08M489.30,335.60L490.59,334.66M489.30,335.60L490.59,336.54M489.30,335.60L488.81,337.12" stroke="#000" stroke-width="1.3" stroke-linecap="round"/>
<circle cx="489.30" cy="335.60" r="1.35"/>
<path d="M502.60,352.2 V349.9 Q502.60,349.2 503.30,349.2 H506.70 Q507.40,349.2 507.40,349.9 V352.2" fill="none" stroke="#111" stroke-width="1.15"/>
<path d="M504.50,345.60L502.90,345.60M504.50,345.60L504.01,344.08M504.50,345.60L505.79,344.66M504.50,345.60L505.79,346.54M504.50,345.60L504.01,347.12" stroke="#000" stroke-width="1.3" stroke-linecap="round"/>
<circle cx="504.50" cy="345.60" r="1.35"/>
</svg>
</body></html>
